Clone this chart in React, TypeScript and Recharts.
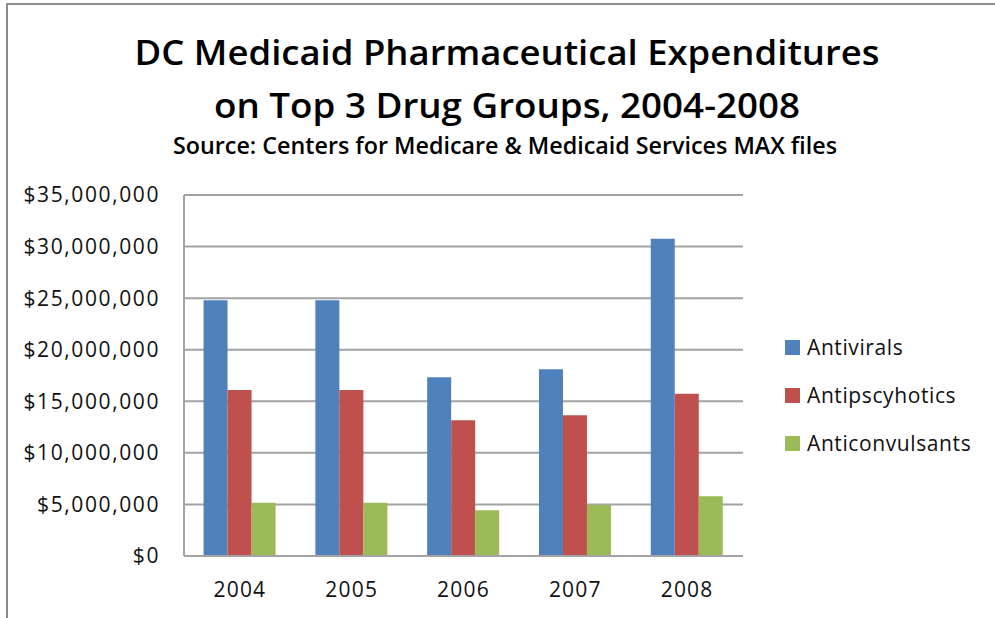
import React from 'react';
import { BarChart, Bar, XAxis, YAxis, CartesianGrid } from 'recharts';

const years = ['2004', '2005', '2006', '2007', '2008'];
const antivirals = [24800000, 24800000, 17330000, 18100000, 30760000];
const antipsychotics = [16100000, 16100000, 13160000, 13640000, 15740000];
const anticonvulsants = [5170000, 5170000, 4430000, 4940000, 5790000];
const yTicks = [0, 5000000, 10000000, 15000000, 20000000, 25000000, 30000000, 35000000];
const seriesNames = ['Antivirals', 'Antipscyhotics', 'Anticonvulsants'];
const seriesKeys = ['antivirals', 'antipsychotics', 'anticonvulsants'];
const colors = ['#4F81BD', '#C0504D', '#9BBB59'];
const titleLines = [
  'DC Medicaid Pharmaceutical Expenditures',
  'on Top 3 Drug Groups, 2004-2008',
];
const subtitle = 'Source: Centers for Medicare & Medicaid Services MAX files';

const data = years.map((y, i) => ({
  year: y,
  antivirals: antivirals[i],
  antipsychotics: antipsychotics[i],
  anticonvulsants: anticonvulsants[i],
}));

const FONT = "'Open Sans', Lato, sans-serif";

const fmt = (v: number) => '$' + String(v).replace(/\B(?=(\d{3})+(?!\d))/g, ',');

const LegendBox = () => (
  <div style={{ position: 'absolute', left: 785, top: 335, width: 210, height: 140 }}>
    {seriesNames.map((n, i) => (
      <div
        key={n}
        style={{
          position: 'absolute',
          left: 0,
          top: i * 48,
          height: 24,
          display: 'flex',
          alignItems: 'center',
          fontFamily: FONT,
          fontSize: 21,
          color: '#111',
          whiteSpace: 'nowrap',
        }}
      >
        <span style={{ display: 'inline-block', width: 15, height: 15, background: colors[i], marginRight: 7 }} />
        <span style={{ letterSpacing: 0.6 }}>{n}</span>
      </div>
    ))}
  </div>
);

export default function App() {
  return (
    <div style={{ position: 'absolute', left: 0, top: 0, width: 995, height: 618, background: '#fff', overflow: 'hidden' }}>
      <div style={{ position: 'absolute', left: 6, top: 3, width: 989, height: 615, borderTop: '2px solid #8c8c8c', borderLeft: '2px solid #8c8c8c' }} />
      <svg width={995} height={170} style={{ position: 'absolute', left: 0, top: 0 }}>
        <text x={507} y={65} textAnchor="middle" fontFamily={FONT} fontWeight={600} fontSize={35} fill="#000" textLength={745} lengthAdjust="spacingAndGlyphs">{titleLines[0]}</text>
        <text x={507} y={118} textAnchor="middle" fontFamily={FONT} fontWeight={600} fontSize={35} fill="#000" textLength={586} lengthAdjust="spacingAndGlyphs">{titleLines[1]}</text>
        <text x={505} y={154} textAnchor="middle" fontFamily={FONT} fontWeight={600} fontSize={23} fill="#000" textLength={664} lengthAdjust="spacingAndGlyphs">{subtitle}</text>
      </svg>
      <div style={{ position: 'absolute', left: 0, top: 0 }}>
        <BarChart
          width={995}
          height={618}
          data={data}
          margin={{ top: 195, right: 252, bottom: 20, left: 0 }}
          barCategoryGap="17.5%"
          barGap={0}
        >
          <CartesianGrid vertical={false} stroke="#a3a3a3" strokeWidth={2} />
          <XAxis
            dataKey="year"
            height={42}
            axisLine={{ stroke: '#a3a3a3', strokeWidth: 2 }}
            tickLine={false}
            tickSize={6}
            tickMargin={20}
            tick={{ fontFamily: FONT, fontSize: 21, fill: '#111', letterSpacing: 1.2 }}
          />
          <YAxis
            width={184}
            domain={[0, 35000000]}
            ticks={yTicks}
            interval={0}
            tickFormatter={fmt}
            axisLine={{ stroke: '#a3a3a3', strokeWidth: 2 }}
            tickLine={false}
            tickSize={6}
            tickMargin={18}
            tick={{ fontFamily: FONT, fontSize: 21, fill: '#111', letterSpacing: 1.6 }}
          />
          {seriesKeys.map((k, i) => (
            <Bar key={k} dataKey={k} name={seriesNames[i]} fill={colors[i]} isAnimationActive={false} />
          ))}
        </BarChart>
      </div>
      <LegendBox />
    </div>
  );
}
